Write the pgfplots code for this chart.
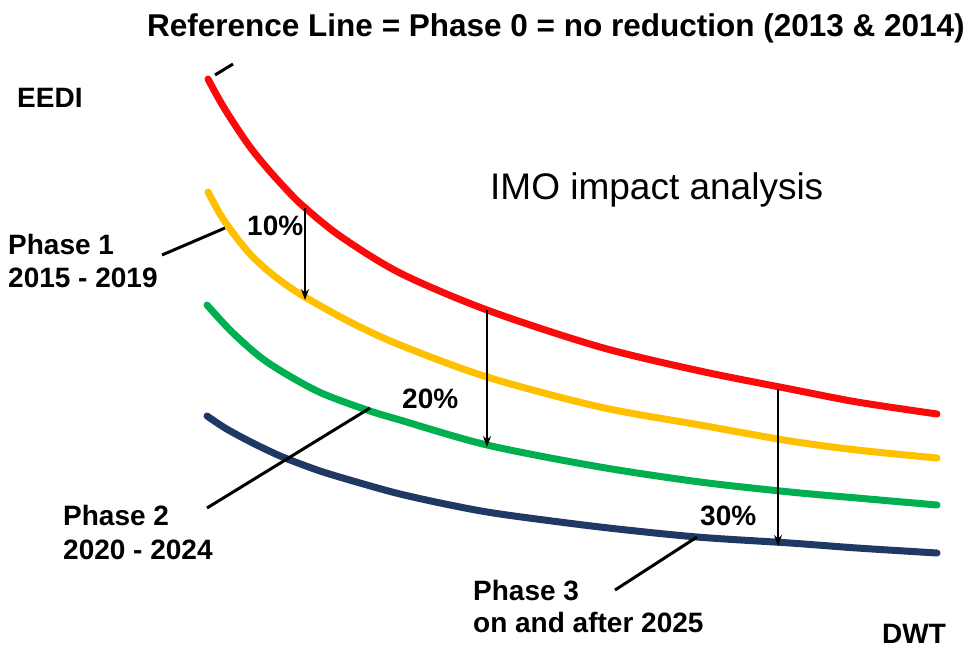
\documentclass[border=0pt]{standalone}
\usepackage{pgfplots}
\pgfplotsset{compat=1.18}
\usepackage{fontspec}
\setmainfont{Liberation Sans}
\usetikzlibrary{arrows.meta}
\definecolor{cred}{RGB}{250,10,10}
\definecolor{cgold}{RGB}{255,192,0}
\definecolor{cgreen}{RGB}{0,176,80}
\definecolor{cnavy}{RGB}{31,56,100}
\newcommand{\bfl}{\fontsize{28bp}{33bp}\selectfont\bfseries}
\begin{document}
\begin{tikzpicture}
\begin{axis}[
  scale only axis, width=979bp, height=648bp,
  xmin=0, xmax=979, ymin=0, ymax=648, y dir=reverse,
  axis line style={draw=none}, xtick=\empty, ytick=\empty,
  clip=false,
]
\path (axis cs:0,0) rectangle (axis cs:979,648);
\addplot[cred, line width=7bp, smooth, line cap=round] coordinates {
(208,79) (220,101) (233,122) (250,147) (267,168) (285,188) (303,206) (340,236) (400,273) (487,310) (600,347) (700,371) (790,389) (857,402) (937,414)};
\addplot[cgold, line width=7bp, smooth, line cap=round] coordinates {
(208,192) (220,214) (233,233) (250,254) (267,270) (285,284) (305,297) (350,322) (400,345) (487,377) (600,407) (700,425) (790,441) (857,450) (937,458)};
\addplot[cgreen, line width=7bp, smooth, line cap=round] coordinates {
(207,305) (233,333) (267,362) (317,391) (367,410) (400,420) (487,445) (600,467) (700,482) (790,492) (857,498) (937,505)};
\addplot[cnavy, line width=7bp, smooth, line cap=round] coordinates {
(207,416) (225,428) (245,439) (265,449) (285,458) (320,471) (360,483) (400,494) (450,505) (500,514) (600,527) (697,537) (790,543) (857,548) (937,553)};
% pointer lines
\draw[black, line width=3bp] (axis cs:215,75) -- (axis cs:233,64);
\draw[black, line width=3bp] (axis cs:162,255) -- (axis cs:225,228);
\draw[black, line width=3bp] (axis cs:207,508) -- (axis cs:370,408);
\draw[black, line width=3bp] (axis cs:615,590) -- (axis cs:697,537);
% arrows
\draw[black, line width=1.3bp, -{Stealth[length=11bp,width=8bp]}] (axis cs:305,208) -- (axis cs:305,300);
\draw[black, line width=1.3bp, -{Stealth[length=11bp,width=8bp]}] (axis cs:487,310) -- (axis cs:487,447);
\draw[black, line width=1.3bp, -{Stealth[length=11bp,width=8bp]}] (axis cs:778,389) -- (axis cs:778,546);
% texts
\node[anchor=base west, inner sep=0pt] at (axis cs:147,37) {\fontsize{31.5bp}{36bp}\selectfont\bfseries Reference Line = Phase 0 = no reduction (2013 \& 2014)};
\node[anchor=base west, inner sep=0pt] at (axis cs:17,107) {\bfl EEDI};
\node[anchor=base west, inner sep=0pt] at (axis cs:490,199) {\fontsize{37bp}{42bp}\selectfont IMO impact analysis};
\node[anchor=base west, inner sep=0pt] at (axis cs:247,235) {\bfl 10\%};
\node[anchor=base west, inner sep=0pt] at (axis cs:8,254) {\bfl Phase 1};
\node[anchor=base west, inner sep=0pt] at (axis cs:8,287) {\bfl 2015 - 2019};
\node[anchor=base west, inner sep=0pt] at (axis cs:402,408) {\bfl 20\%};
\node[anchor=base west, inner sep=0pt] at (axis cs:63,525) {\bfl Phase 2};
\node[anchor=base west, inner sep=0pt] at (axis cs:63,559) {\bfl 2020 - 2024};
\node[anchor=base west, inner sep=0pt] at (axis cs:700,525) {\bfl 30\%};
\node[anchor=base west, inner sep=0pt] at (axis cs:473,600) {\bfl Phase 3};
\node[anchor=base west, inner sep=0pt] at (axis cs:473,632) {\bfl on and after 2025};
\node[anchor=base west, inner sep=0pt] at (axis cs:882,643) {\bfl DWT};
\end{axis}
\end{tikzpicture}
\end{document}
